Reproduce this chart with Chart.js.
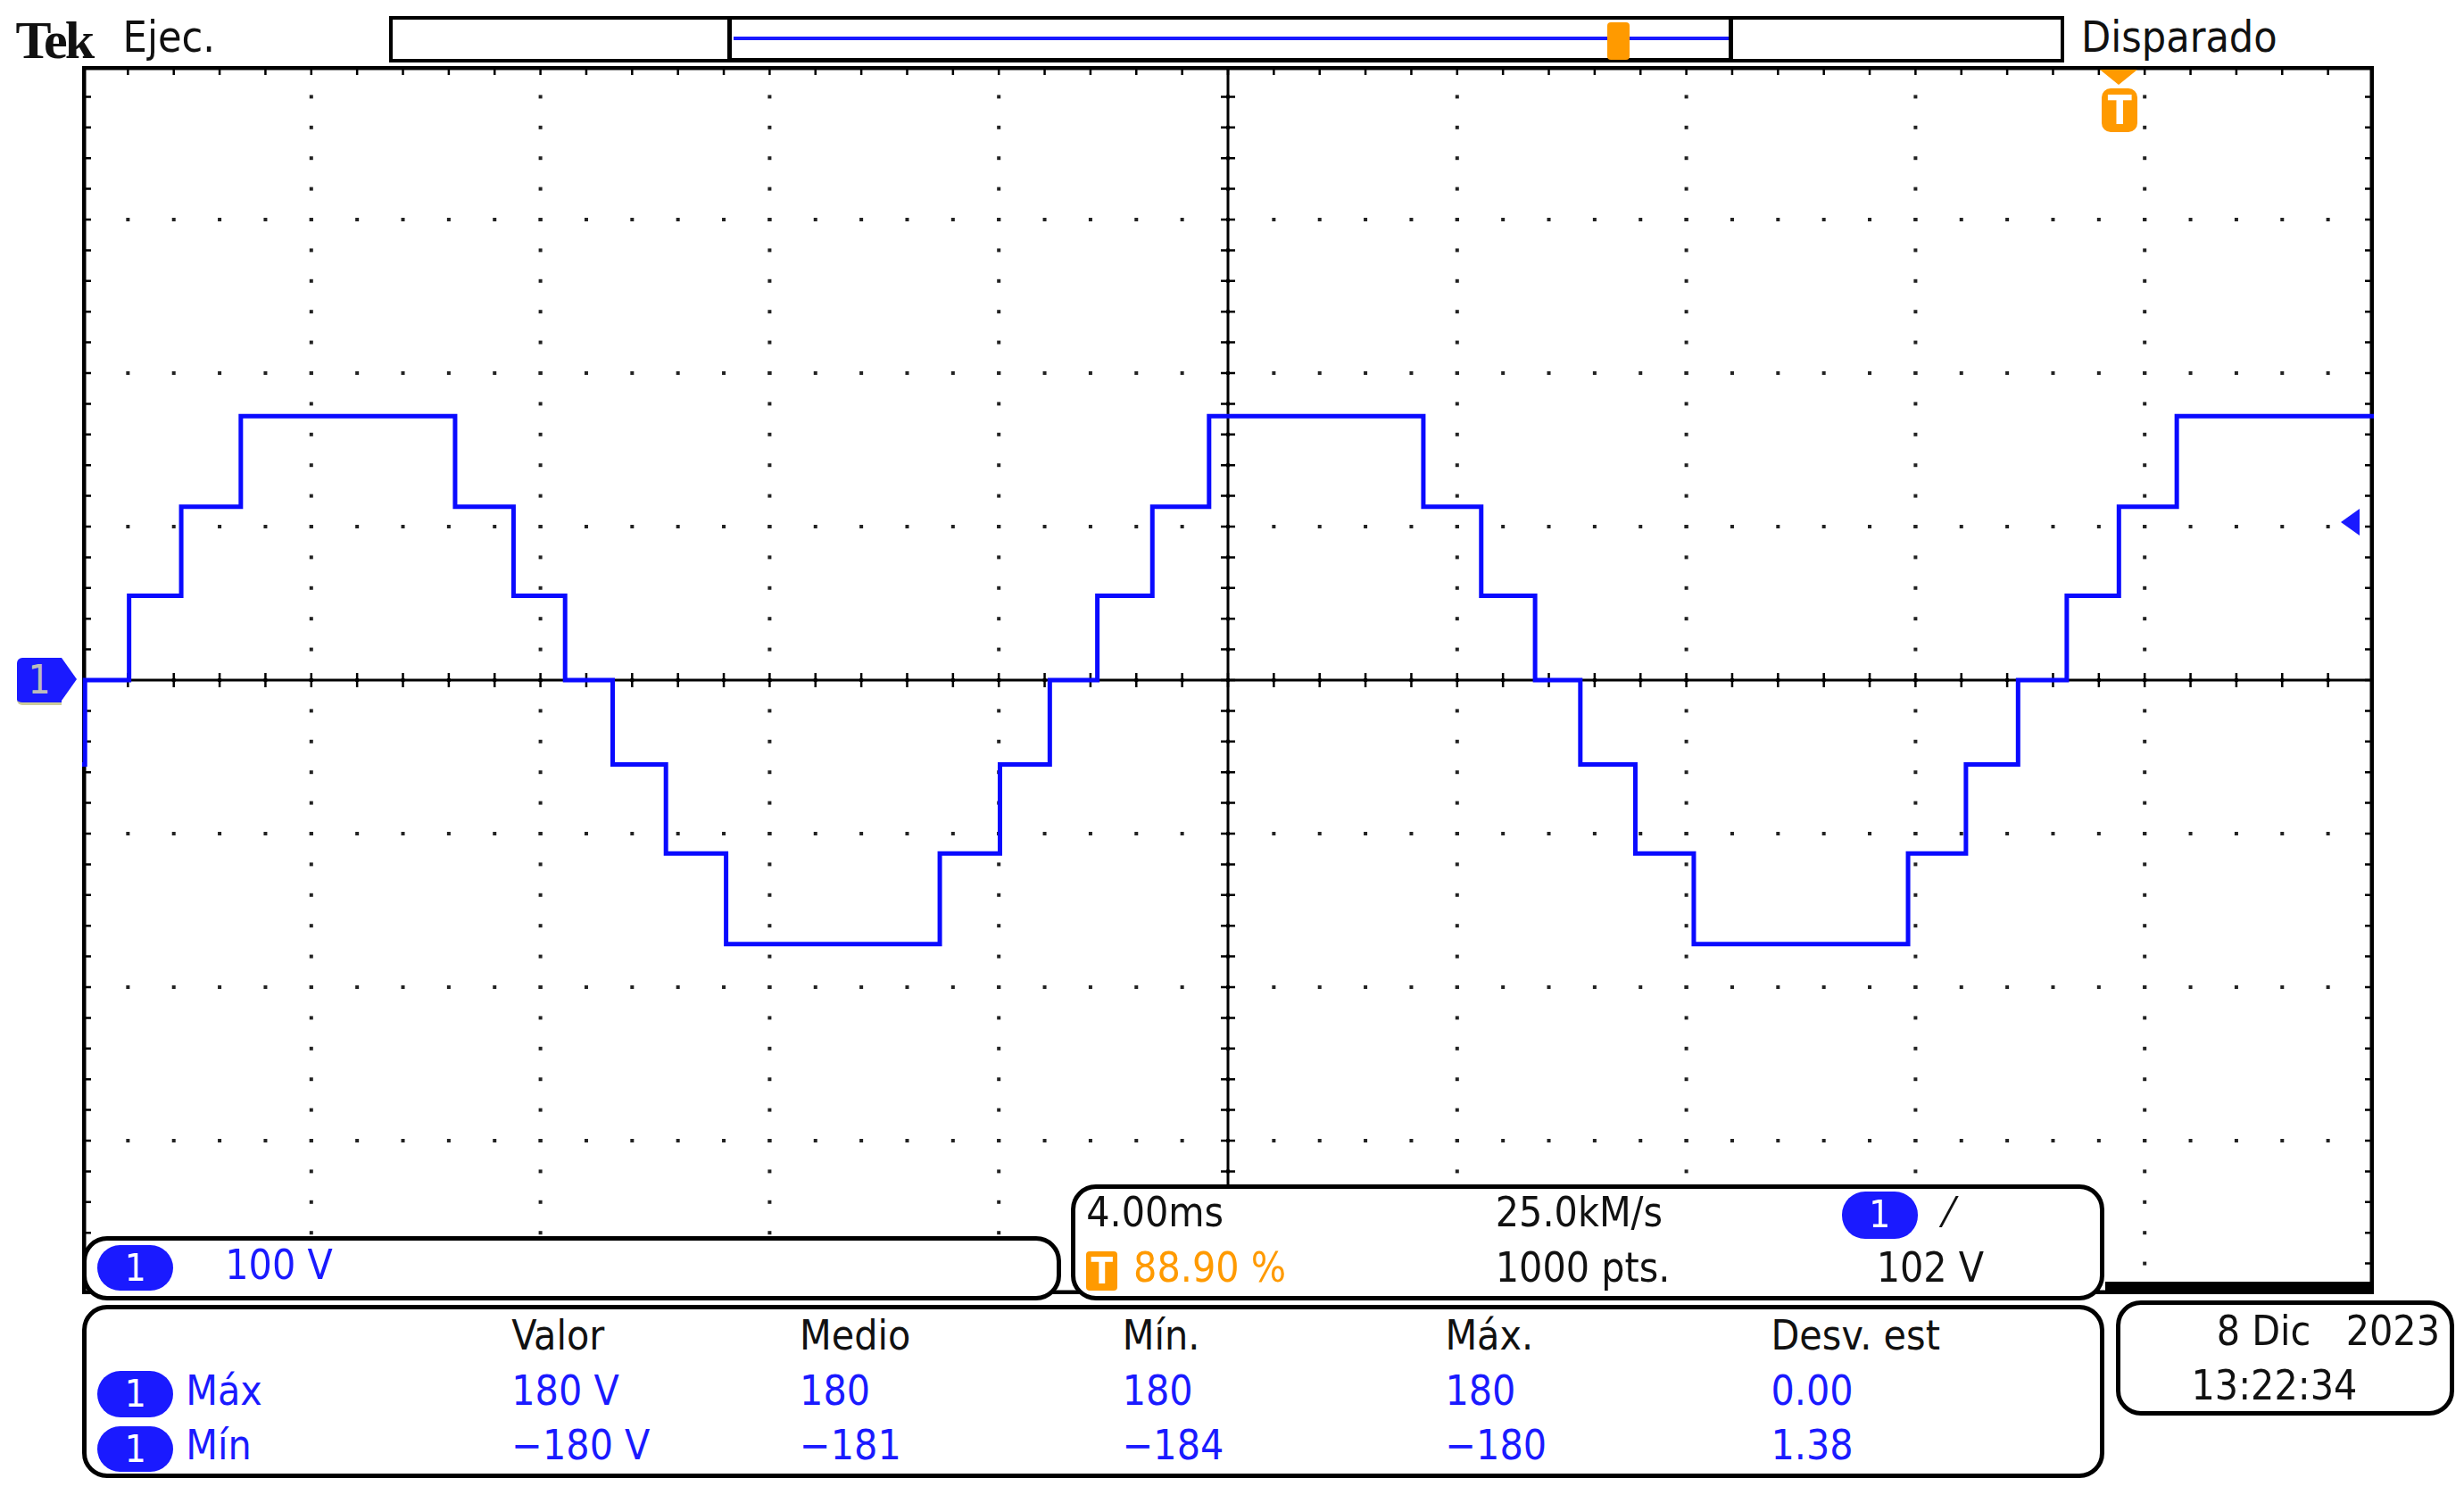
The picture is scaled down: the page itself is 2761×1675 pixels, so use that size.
<!DOCTYPE html>
<html><head><meta charset="utf-8">
<script src="https://cdn.jsdelivr.net/npm/chart.js@4"></script>
<style>
body{margin:0;width:2761px;height:1675px;background:#fff;position:relative;overflow:hidden;font-family:"Liberation Sans Narrow","DejaVu Sans Condensed","Liberation Sans",sans-serif;}
.a{position:absolute;white-space:nowrap;}
.box{position:absolute;border:5px solid #000;border-radius:28px;background:#fff;box-sizing:border-box;}
.t{position:absolute;white-space:nowrap;font-size:46px;line-height:46px;color:#111;}
.b{color:#1a1aff}.o{color:#ff9a00}
.pill{position:absolute;background:#1a1aff;color:#fff;border-radius:26px;text-align:center;font-size:42px;line-height:46px;}
</style></head><body>
<div class="a" style="left:92px;top:74px;width:2568px;height:1376px;"><canvas id="c"></canvas></div>
<div id="ov"></div>
<script>
// data (time in ms, level in V)
const stepTimes = [0,0.05,0.82,1.73,2.77,6.51,7.53,8.43,9.26,10.19,11.24,14.97,16.02,16.89,17.72,18.68,19.67,23.41,24.42,25.36,26.15,27.11,28.13,31.87,32.88,33.79,34.64,35.55,36.56,40];
const stepLevels = [-55,0,55,113,172,113,55,0,-55,-113,-172,-113,-55,0,55,113,172,113,55,0,-55,-113,-172,-113,-55,0,55,113,172,172];
const xDivs = 10, yDivs = 8, minor = 5;
const msPerDiv = 4, vPerDiv = 100;

const S = 1.764;
function add(html){document.getElementById('ov').insertAdjacentHTML('beforeend',html);}
function P(v){return (v*S).toFixed(1)+'px';}
function box(x1,y1,x2,y2,extra){add(`<div class="box" style="left:${P(x1)};top:${P(y1)};width:${P(x2-x1)};height:${P(y2-y1)};${extra||''}"></div>`);}
function txt(x,y,s,cls,st){add(`<div class="t ${cls||''}" style="left:${P(x)};top:${P(y)};${st||''}">${s}</div>`);}
function pill(x,y,w,h){add(`<div class="pill" style="left:${P(x)};top:${P(y)};width:${P(w)};height:${P(h)};line-height:${P(h)}">1</div>`);}

const gridPlugin = {
  id:'scopeGrid',
  beforeDatasetsDraw(ch){
    const {ctx, chartArea:a, scales:{x,y}} = ch;
    ctx.save();
    ctx.fillStyle='#222';
    const xmax = xDivs*msPerDiv, ymax = yDivs/2*vPerDiv;
    // dotted grid lines
    for(let i=1;i<xDivs;i++){
      const px = x.getPixelForValue(i*msPerDiv);
      for(let j=0;j<=yDivs*minor;j++){
        const py = y.getPixelForValue(-ymax + j*vPerDiv/minor);
        ctx.fillRect(px-2,py-2,4,4);
      }
    }
    for(let j=1;j<yDivs;j++){
      const py = y.getPixelForValue(-ymax + j*vPerDiv);
      for(let i=0;i<=xDivs*minor;i++){
        const px = x.getPixelForValue(i*msPerDiv/minor);
        ctx.fillRect(px-2,py-2,4,4);
      }
    }
    // center crosshair
    ctx.strokeStyle='#000';ctx.lineWidth=3;
    const cx = x.getPixelForValue(xmax/2), cy = y.getPixelForValue(0);
    ctx.beginPath();ctx.moveTo(a.left,cy);ctx.lineTo(a.right,cy);ctx.moveTo(cx,a.top);ctx.lineTo(cx,a.bottom);ctx.stroke();
    ctx.lineWidth=2.5;ctx.beginPath();
    for(let i=0;i<=xDivs*minor;i++){
      const px = x.getPixelForValue(i*msPerDiv/minor);
      ctx.moveTo(px,cy-8);ctx.lineTo(px,cy+8);
      ctx.moveTo(px,a.top);ctx.lineTo(px,a.top+10);
      ctx.moveTo(px,a.bottom);ctx.lineTo(px,a.bottom-10);
    }
    for(let j=0;j<=yDivs*minor;j++){
      const py = y.getPixelForValue(-ymax + j*vPerDiv/minor);
      ctx.moveTo(cx-8,py);ctx.lineTo(cx+8,py);
      ctx.moveTo(a.left,py);ctx.lineTo(a.left+10,py);
      ctx.moveTo(a.right,py);ctx.lineTo(a.right-10,py);
    }
    ctx.stroke();
    ctx.lineWidth=5;ctx.strokeRect(a.left+2,a.top+2,a.right-a.left-4,a.bottom-a.top-4);
    ctx.restore();
  }
};

new Chart(document.getElementById('c'),{
  type:'line',
  data:{datasets:[{data:stepTimes.map((t,i)=>({x:t,y:stepLevels[i]})),stepped:true,borderColor:'#0a0aff',borderWidth:5,pointRadius:0,fill:false}]},
  options:{responsive:true,maintainAspectRatio:false,animation:false,
    layout:{padding:0},
    plugins:{legend:{display:false},tooltip:{enabled:false}},
    scales:{
      x:{type:'linear',min:0,max:xDivs*msPerDiv,display:false},
      y:{type:'linear',min:-yDivs/2*vPerDiv,max:yDivs/2*vPerDiv,display:false}
    }},
  plugins:[gridPlugin]
});

// header
add(`<div class="a" style="left:${P(10)};top:${P(6)};font-family:'Liberation Serif','DejaVu Serif',serif;font-weight:bold;font-size:60px;letter-spacing:-3px;color:#111">Tek</div>`);
txt(78,10,'Ejec.','', 'font-size:48px;');
add(`<div class="a" style="left:${P(247)};top:${P(10)};width:${P(1064)};height:${P(30)};border:4px solid #000;box-sizing:border-box"></div>`);
add(`<div class="a" style="left:${P(462)};top:${P(10)};width:${P(639)};height:${P(30)};border:5px solid #000;border-top:3px solid #000;box-sizing:border-box"></div>`);
add(`<div class="a" style="left:${P(466)};top:${P(23)};width:${P(632)};height:4px;background:#1a1aff"></div>`);
add(`<div class="a" style="left:${P(1021)};top:${P(14)};width:${P(14)};height:${P(24)};background:#ff9a00;border-radius:4px"></div>`);
txt(1322,10,'Disparado','','font-size:48px;');
// trigger marker on top
add(`<div class="a" style="left:${P(1334)};top:${P(44)};width:0;height:0;border-left:${P(12)} solid transparent;border-right:${P(12)} solid transparent;border-top:${P(10)} solid #ff9a00"></div>`);
add(`<div class="a" style="left:${P(1335)};top:${P(56)};width:${P(23)};height:${P(28)};background:#ff9a00;border-radius:10px;color:#fff;font-weight:bold;font-size:44px;line-height:${P(28)};text-align:center">T</div>`);
// right trigger level arrow
add(`<div class="a" style="left:${P(1487)};top:${P(323)};width:0;height:0;border-top:${P(9)} solid transparent;border-bottom:${P(9)} solid transparent;border-right:${P(12)} solid #1a1aff"></div>`);
// channel marker
add(`<div class="a" style="left:${P(11)};top:${P(418)};width:${P(28)};height:${P(28)};background:#1a1aff;border-radius:6px 0 0 6px;color:#bbb;font-size:44px;line-height:${P(28)};text-align:center;border-bottom:3px solid #cc9">1</div>`);
add(`<div class="a" style="left:${P(39)};top:${P(418)};width:0;height:0;border-top:${P(14)} solid transparent;border-bottom:${P(14)} solid transparent;border-left:${P(10)} solid #1a1aff"></div>`);

// channel box
box(52,785,674,826);
pill(62,791,48,29);
txt(143,790,'100 V','b');
// timebase box
box(680,752,1337,826);
txt(690,757,'4.00ms');
txt(950,757,'25.0kM/s');
pill(1170,757,48,30);
txt(1236,757,'⁄');
add(`<div class="a" style="left:${P(690)};top:${P(795)};width:${P(20)};height:${P(25)};background:#ff9a00;border-radius:4px;color:#fff;font-weight:bold;font-size:40px;line-height:${P(25)};text-align:center">T</div>`);
txt(720,792,'88.90 %','o');
txt(950,792,'1000 pts.');
txt(1192,792,'102 V');
add(`<div class="a" style="left:${P(1337)};top:${P(814)};width:${P(171)};height:${P(8)};background:#000"></div>`);
// measurement box
box(52,829,1337,939);
const cols=[325,508,713,918,1125];
['Valor','Medio','Mín.','Máx.','Desv. est'].forEach((s,i)=>txt(cols[i],835,s));
pill(62,871,48,29);pill(62,906,48,29);
txt(118,870,'Máx','b');txt(118,905,'Mín','b');
['180 V','180','180','180','0.00'].forEach((s,i)=>txt(cols[i],870,s,'b'));
['−180 V','−181','−184','−180','1.38'].forEach((s,i)=>txt(cols[i],905,s,'b'));
// date box
box(1344,826,1559,899);
txt(1408,832,'8 Dic&nbsp;&nbsp; 2023');
txt(1392,867,'13:22:34');
</script>
</body></html>
